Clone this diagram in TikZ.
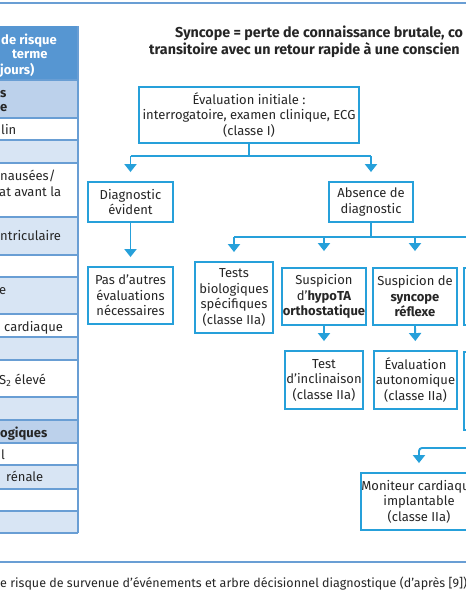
\documentclass[tikz,border=0pt]{standalone}
\usepackage{fontspec}
\setmainfont{Fira Sans}
\usetikzlibrary{arrows.meta}
\definecolor{cyanb}{RGB}{38,160,218}
\definecolor{hdr}{RGB}{86,150,210}
\definecolor{rowl}{RGB}{216,229,244}
\definecolor{rowm}{RGB}{188,209,235}
\definecolor{tline}{RGB}{105,158,212}
\definecolor{txt}{RGB}{38,38,38}
\begin{document}
\begin{tikzpicture}[x=1pt,y=-1pt,
  box/.style={draw=cyanb, line width=1.9pt, fill=white, align=center, inner sep=0pt,
    font=\fontsize{13}{15.5}\selectfont, text=txt},
  arr/.style={draw=cyanb, line width=1.9pt, -{Triangle[length=8pt,width=12pt]}, shorten >=9pt},
  ln/.style={draw=cyanb, line width=1.9pt},
  tt/.style={anchor=base west, inner sep=0pt, font=\fontsize{13}{15}\selectfont, text=txt},
  tb/.style={tt, font=\fontsize{13}{15}\selectfont\bfseries},
  rule/.style={draw=tline, line width=2pt}]
\useasboundingbox (0,0) rectangle (466,600);
\clip (0,0) rectangle (466,600);
\fill[white] (0,0) rectangle (466,600);
% rules
\coordinate (rl1) at (0,3); \coordinate (rr1) at (466,3);
\draw[rule] (rl1) -- (rr1);
\coordinate (rl2) at (0,562); \coordinate (rr2) at (466,562);
\draw[rule] (rl2) -- (rr2);
% table
\fill[hdr] (-60,26) rectangle (78,80);
\fill[rowm] (-60,80) rectangle (78,118);
\fill[rowl] (-60,140) rectangle (78,163);
\fill[rowl] (-60,217) rectangle (78,255);
\fill[rowl] (-60,277) rectangle (78,314);
\fill[rowl] (-60,337) rectangle (78,360);
\fill[rowl] (-60,397) rectangle (78,420);
\fill[rowm] (-60,420) rectangle (78,443);
\fill[rowl] (-60,465) rectangle (78,489);
\fill[rowl] (-60,511) rectangle (78,533);
\foreach \y in {80,118,140,163,217,255,277,314,337,360,397,420,443,465,489,511,533}
  \draw[tline, line width=1.3pt] (-60,\y) -- (78,\y);
\draw[tline, line width=2pt] (78,26) -- (78,533);
\node[tb, text=white] (h1) at (1,44) {de risque};
\node[tb, text=white] (h2) at (12,58.5) {terme};
\node[tb, text=white] (h3) at (0,74) {jours)};
\node[tb] (r1a) at (0,97) {s};
\node[tb] (r1b) at (0,111.5) {e};
\node[tt] (r2) at (1,134) {lin};
\node[tt] (r4a) at (0,180) {nausées/};
\node[tt] (r4b) at (-1,196) {at avant la};
\node[tt] (r5) at (0,240.5) {ntriculaire};
\node[tt] (r7) at (-1,294.5) {e};
\node[tt] (r8) at (4,331) {cardiaque};
\node[tt] (r10) at (-1,384) {S\textsubscript{2} élevé};
\node[tb] (r12) at (0,437) {ogiques};
\node[tt] (r13) at (1,459.5) {l};
\node[tt] (r14) at (6,481.5) {rénale};
% title
\node[tb, font=\fontsize{14.3}{16}\selectfont\bfseries] (t1) at (175,37.5) {Syncope = perte de connaissance brutale, co};
\node[tb, font=\fontsize{14.3}{16}\selectfont\bfseries] (t2) at (149,54) {transitoire avec un retour rapide à une conscien};
% caption
\node[tt, font=\fontsize{12.5}{14}\selectfont] (cap) at (0,587) {e risque de survenue d'événements et arbre décisionnel diagnostique (d'après [9])};
% boxes
\node[box, minimum width=220pt, minimum height=56pt] (eval) at (249,115) {Évaluation initiale :\\interrogatoire, examen clinique, ECG\\(classe I)};
\node[box, minimum width=85pt, minimum height=40pt] (diag) at (130.5,202) {Diagnostic\\évident};
\node[box, minimum width=84pt, minimum height=40pt] (abs) at (371,202) {Absence de\\diagnostic};
\node[box, minimum width=85pt, minimum height=57pt] (pas) at (130.5,295.5) {Pas d'autres\\évaluations\\nécessaires};
\node[box, minimum width=78pt, minimum height=71pt] (tests) at (234,297.5) {Tests\\biologiques\\spécifiques\\(classe IIa)};
\node[box, minimum width=84pt, minimum height=57pt] (hypo) at (324,296.5) {Suspicion\\d'\textbf{hypoTA}\\\textbf{orthostatique}};
\node[box, minimum width=84pt, minimum height=57pt] (refl) at (415,296.5) {Suspicion de\\\textbf{syncope}\\\textbf{réflexe}};
\node[box, minimum width=86pt, minimum height=57pt] (rb1) at (507,296.5) {};
\node[box, minimum width=78pt, minimum height=58pt] (incl) at (324,380) {Test\\d'inclinaison\\(classe IIa)};
\node[box, minimum width=83pt, minimum height=58pt] (auto) at (415.5,380) {Évaluation\\autonomique\\(classe IIa)};
\node[box, minimum width=86pt, minimum height=78pt] (rb2) at (507,391) {};
\node[box, minimum width=114pt, minimum height=57pt] (moni) at (419,501.5) {Moniteur cardiaque\\implantable\\(classe IIa)};
% connectors
\coordinate (j1) at (249,156);
\coordinate (j2) at (371,237);
\coordinate (jr) at (490,237);
\coordinate (jm) at (490,448);
\draw[ln] (eval.south) -- (j1);
\draw[ln] (diag.north |- j1) -- (abs.north |- j1);
\draw[arr] (diag.north |- j1) -- (diag.north);
\draw[arr] (abs.north |- j1) -- (abs.north);
\draw[arr] (diag.south) -- (pas.north);
\draw[ln] (abs.south) -- (j2);
\draw[ln] (tests.north |- j2) -- (jr);
\draw[arr] (tests.north |- j2) -- (tests.north);
\draw[arr, shorten >=16pt] (hypo.north |- j2) -- (hypo.north);
\draw[arr, shorten >=16pt] (refl.north |- j2) -- (refl.north);
\draw[arr] (hypo.south) -- (incl.north);
\draw[arr] (refl.south) -- (auto.north);
\draw[arr, rounded corners=3pt] (jm) -- (moni.north |- jm) -- (moni.north);
\end{tikzpicture}
\end{document}
